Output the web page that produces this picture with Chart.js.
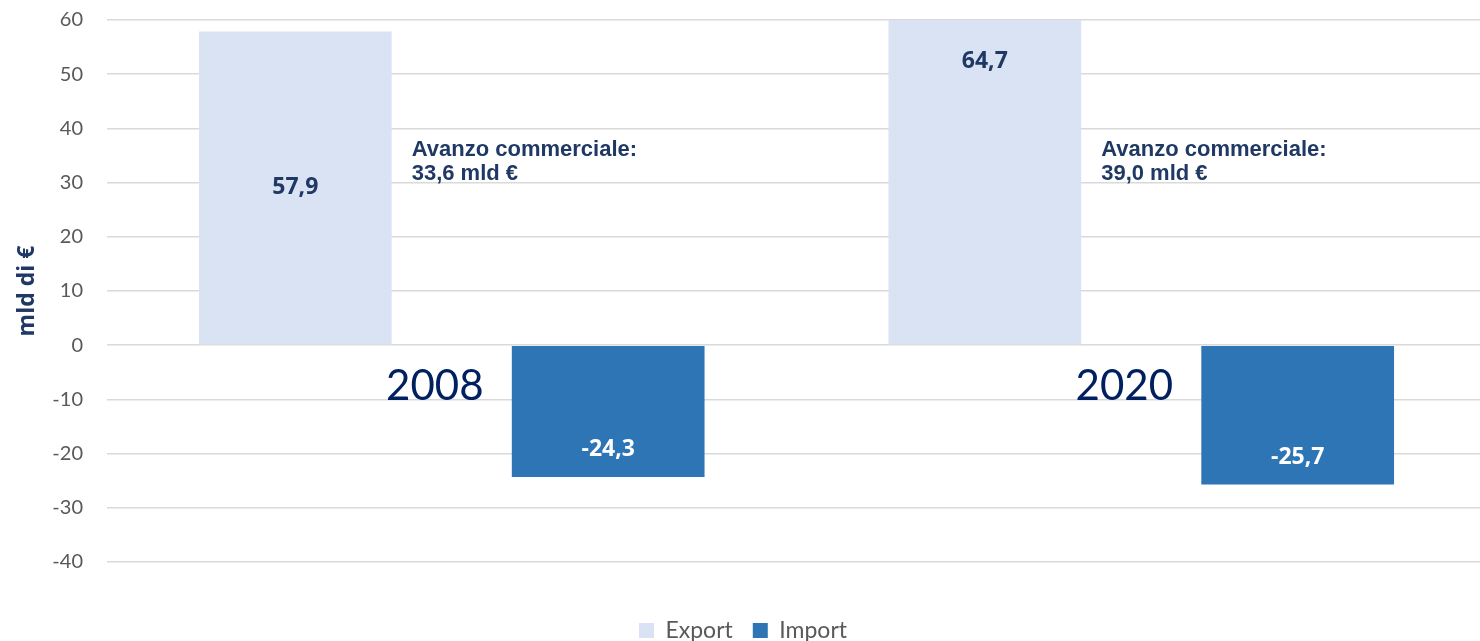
<!DOCTYPE html>
<html>
<head>
    <meta charset="utf-8">
    <title>Export e Import</title>
    <script src="https://cdn.jsdelivr.net/npm/chart.js"></script>
    <style>
        html, body { margin: 0; padding: 0; background: #ffffff; overflow: hidden; }
        .chart-container { position: relative; width: 1486px; height: 668px; margin-top: -16px; }
    </style>
</head>
<body>
    <div class="chart-container">
        <canvas id="chart"></canvas>
    </div>

    <script>
        // dati
        var years = ['2008', '2020'];
        var exportValues = [57.9, 64.7];
        var importValues = [-24.3, -25.7];
        var surplusValues = ['33,6', '39,0'];
        var yTicks = { min: -40, max: 60, step: 10 };

        var navy = '#1F3864';

        function fmt(v) {
            return v.toFixed(1).replace('.', ',');
        }

        // etichette dei valori, anni e testo "Avanzo commerciale"
        var annotationsPlugin = {
            id: 'annotations',
            afterDatasetsDraw: function(chart) {
                var ctx = chart.ctx;
                var area = chart.chartArea;
                var y = chart.scales.y;
                var expMeta = chart.getDatasetMeta(0);
                var impMeta = chart.getDatasetMeta(1);
                ctx.save();
                ctx.textAlign = 'center';
                ctx.textBaseline = 'middle';

                years.forEach(function(year, i) {
                    var eb = expMeta.data[i];
                    var ib = impMeta.data[i];
                    var eTop = Math.max(eb.y, area.top);

                    // valore export
                    ctx.fillStyle = navy;
                    ctx.font = 'bold 23px "Open Sans"';
                    var ey = i === 0 ? (eTop + eb.base) / 2 : eTop + 41;
                    ctx.fillText(fmt(exportValues[i]), eb.x, ey);

                    // valore import
                    ctx.fillStyle = '#ffffff';
                    ctx.fillText(fmt(importValues[i]), ib.x, ib.y - 27);

                    // anno
                    ctx.fillStyle = '#002060';
                    ctx.font = '42px Lato';
                    ctx.fillText(year, ib.x - ib.width / 2 - 77, y.getPixelForValue(-7.6));

                    // avanzo commerciale
                    ctx.textAlign = 'left';
                    ctx.fillStyle = navy;
                    ctx.font = 'bold 22px "Liberation Sans"';
                    var ax = eb.x + eb.width / 2 + 20;
                    ctx.fillText('Avanzo commerciale:', ax, y.getPixelForValue(36.0));
                    ctx.fillText(surplusValues[i] + ' mld \u20AC', ax, y.getPixelForValue(31.6));
                    ctx.textAlign = 'center';
                });
                ctx.restore();
            }
        };

        var ctx = document.getElementById('chart').getContext('2d');
        var chart = new Chart(ctx, {
            type: 'bar',
            data: {
                labels: years,
                datasets: [
                    {
                        label: 'Export',
                        data: exportValues,
                        backgroundColor: '#DAE3F3',
                        categoryPercentage: 0.9075,
                        barPercentage: 0.616
                    },
                    {
                        label: 'Import',
                        data: importValues,
                        backgroundColor: '#2E75B6',
                        categoryPercentage: 0.9075,
                        barPercentage: 0.616
                    }
                ]
            },
            options: {
                responsive: true,
                maintainAspectRatio: false,
                animation: false,
                layout: { padding: { top: -8, right: 0, left: 0, bottom: 0 } },
                plugins: {
                    legend: {
                        position: 'bottom',
                        labels: {
                            color: '#595959',
                            font: { family: 'Lato', size: 23 },
                            boxWidth: 15,
                            boxHeight: 15,
                            padding: 20
                        }
                    },
                    tooltip: { enabled: false }
                },
                scales: {
                    x: {
                        ticks: { display: false },
                        grid: { display: false },
                        border: { display: false },
                        afterFit: function(scale) { scale.height = 37; }
                    },
                    y: {
                        min: yTicks.min,
                        max: yTicks.max,
                        ticks: {
                            stepSize: yTicks.step,
                            color: '#595959',
                            font: { family: 'Lato', size: 20 },
                            padding: 24
                        },
                        grid: { color: '#D9D9D9', lineWidth: 1.5, drawTicks: false },
                        border: { display: false },
                        title: {
                            display: true,
                            text: 'mld di \u20AC',
                            color: navy,
                            font: { family: 'Open Sans', size: 23, weight: 'bold' },
                            padding: { top: 14, bottom: 4 }
                        },
                        afterFit: function(scale) { scale.width = 107; }
                    }
                }
            },
            plugins: [annotationsPlugin]
        });
    </script>
</body>
</html>
